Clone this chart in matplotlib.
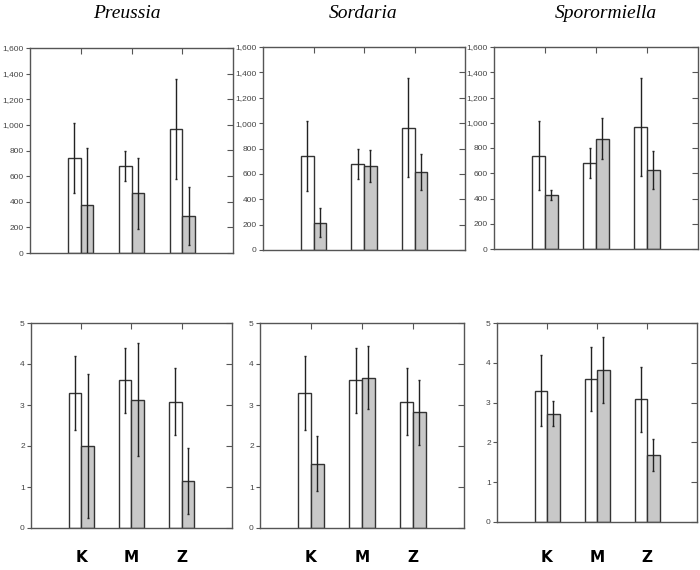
import numpy as np
import matplotlib
matplotlib.use('Agg')
import matplotlib.pyplot as plt


# genera and sites
genera = ['Preussia', 'Sordaria', 'Sporormiella']
sites = ['K', 'M', 'Z']

# top row - white bars (same reference in every panel)
top_white = [740, 680, 965]
top_white_err = [275, 120, 390]

# top row - gray bars per genus
top_gray = {
    'Preussia': [375, 465, 290],
    'Sordaria': [215, 660, 615],
    'Sporormiella': [430, 875, 625],
}
top_gray_err = {
    'Preussia': [445, 280, 225],
    'Sordaria': [115, 125, 142],
    'Sporormiella': [40, 162, 152],
}

# bottom row - white bars
bot_white = [3.3, 3.6, 3.08]
bot_white_err = [0.9, 0.8, 0.82]

# bottom row - gray bars per genus
bot_gray = {
    'Preussia': [2.0, 3.13, 1.15],
    'Sordaria': [1.57, 3.67, 2.82],
    'Sporormiella': [2.72, 3.83, 1.68],
}
bot_gray_err = {
    'Preussia': [1.76, 1.38, 0.8],
    'Sordaria': [0.67, 0.76, 0.8],
    'Sporormiella': [0.32, 0.83, 0.4],
}

W, H = 700, 570
fig = plt.figure(figsize=(7, 5.7), dpi=100)

# axes boxes in pixels (left, right, top, bottom)
top_boxes = [(30, 233, 48, 253), (263, 465, 47, 250), (494, 698, 47, 249)]
bot_boxes = [(31, 232, 323, 528), (260, 464, 323, 528), (497, 697, 323, 522)]
title_x = [127, 363, 606]

edge = '#555555'
x = np.arange(1, 4)
bw = 0.25


def make_ax(box):
    l, r, t, b = box
    return fig.add_axes([l / W, 1 - b / H, (r - l) / W, (b - t) / H])


def style(ax, ymax, yticks, fmt):
    ax.set_xlim(0, 4)
    ax.set_ylim(0, ymax)
    ax.set_yticks(yticks)
    ax.set_yticklabels([fmt(v) for v in yticks], fontsize=6, color='#444444',
                       family='Liberation Sans')
    for s in ax.spines.values():
        s.set_color(edge)
        s.set_linewidth(1.0)
    ax.tick_params(axis='y', direction='out', length=3, color=edge, pad=1.5)
    ax.tick_params(axis='x', bottom=False, labelbottom=False)
    sec = ax.secondary_xaxis('top')
    sec.set_xticks(x)
    sec.set_xticklabels([])
    sec.tick_params(direction='in', length=4, color=edge)
    sec.spines['top'].set_visible(False)
    secy = ax.secondary_yaxis('right')
    secy.set_yticks(yticks)
    secy.set_yticklabels([])
    secy.tick_params(direction='in', length=4, color=edge)
    secy.spines['right'].set_visible(False)


def draw(ax, w, we, g, ge):
    ax.bar(x - bw / 2, w, bw, color='white', edgecolor='#333333', linewidth=1.0, zorder=2)
    ax.bar(x + bw / 2, g, bw, color='#c8c8c8', edgecolor='#333333', linewidth=1.0, zorder=2)
    ax.errorbar(x - bw / 2, w, yerr=we, fmt='none', ecolor='#222222',
                elinewidth=1.0, capsize=1, capthick=1.0, zorder=3)
    ax.errorbar(x + bw / 2, g, yerr=ge, fmt='none', ecolor='#222222',
                elinewidth=1.0, capsize=1, capthick=1.0, zorder=3)


for i, g in enumerate(genera):
    ax = make_ax(top_boxes[i])
    draw(ax, top_white, top_white_err, top_gray[g], top_gray_err[g])
    style(ax, 1600, np.arange(0, 1601, 200), lambda v: f'{int(v):,}')
    fig.text(title_x[i] / W, 1 - 13 / H, g, ha='center', va='center',
             fontsize=14, style='italic', family='Liberation Serif')

    ax2 = make_ax(bot_boxes[i])
    draw(ax2, bot_white, bot_white_err, bot_gray[g], bot_gray_err[g])
    style(ax2, 5, np.arange(0, 6, 1), lambda v: f'{int(v)}')
    for xi, s in zip(x, sites):
        ax2.annotate(s, xy=(xi, 0), xycoords=('data', 'axes fraction'),
                     xytext=(0, -(558 - bot_boxes[i][3])), textcoords='offset pixels',
                     ha='center', va='center', fontsize=11, fontweight='bold')

fig.savefig('out.png', dpi=100)
